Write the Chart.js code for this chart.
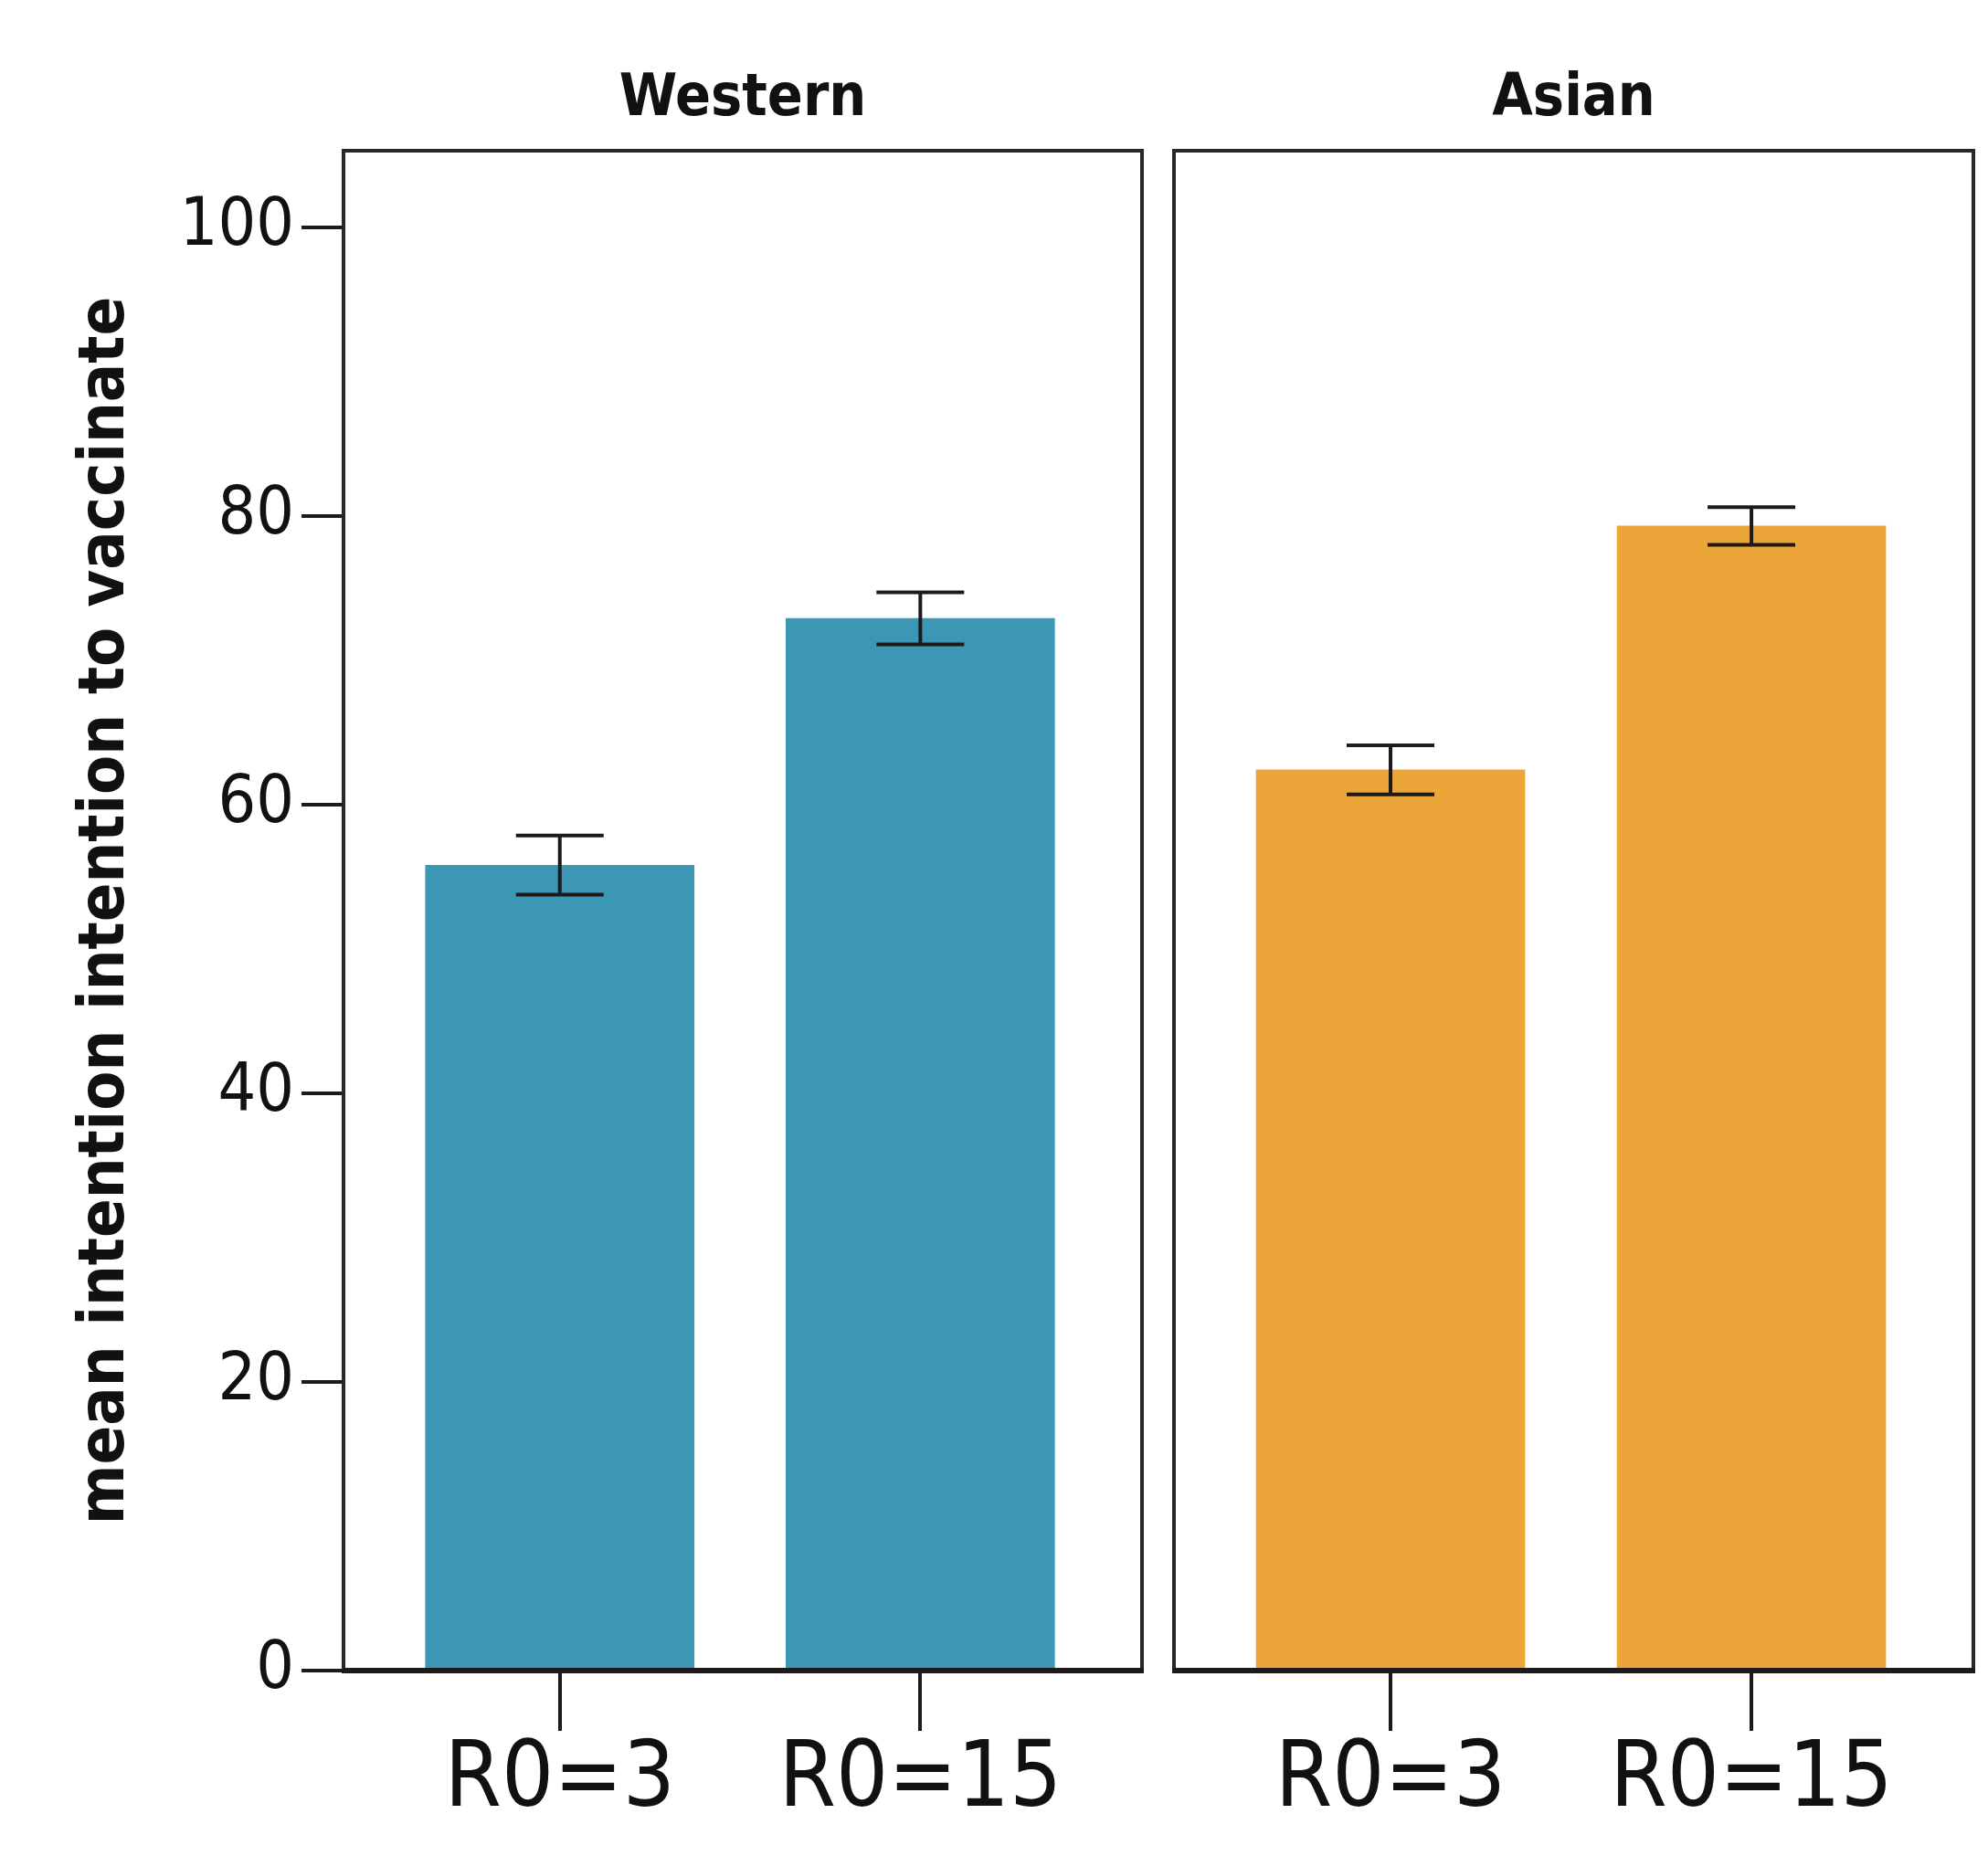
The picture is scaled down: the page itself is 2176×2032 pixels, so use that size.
<!DOCTYPE html>
<html><head><meta charset="utf-8">
<script src="https://cdn.jsdelivr.net/npm/chart.js@4/dist/chart.umd.min.js"></script>
<style>
html,body{margin:0;padding:0;background:#fff;}
#wrap{position:relative;width:2176px;height:2032px;overflow:hidden;background:#fff;}
canvas{position:absolute;top:0;}
</style></head><body>
<div id="wrap">
<canvas id="c1" width="1270" height="2032" style="left:0;width:1270px;height:2032px"></canvas>
<canvas id="c2" width="906" height="2032" style="left:1270px;width:906px;height:2032px"></canvas>
</div>
<script>
// ---- data ----
const categories = ['R0=3', 'R0=15'];
const panelTitles = ['Western', 'Asian'];
const westernMeans = [55.8, 72.9];
const westernErrors = [2.05, 1.8];
const asianMeans = [62.4, 79.3];
const asianErrors = [1.7, 1.3];
const yTicks = [0, 20, 40, 60, 80, 100];
const yTitle = 'mean intention intention to vaccinate';

// ---- styles ----
const FONT = "'DejaVu Sans Condensed', 'DejaVu Sans', sans-serif";
const INK = '#1e1a1b';
const TEAL = '#3b97b4';
const ORANGE = '#eca538';

const errorBars = {
  id: 'errorBars',
  afterDatasetsDraw(chart) {
    const {ctx} = chart;
    const y = chart.scales.y;
    chart.data.datasets.forEach((ds, di) => {
      const meta = chart.getDatasetMeta(di);
      meta.data.forEach((bar, i) => {
        const m = ds.means[i], e = ds.errors[i];
        const yHi = y.getPixelForValue(m + e), yLo = y.getPixelForValue(m - e);
        const half = 48;
        ctx.save();
        ctx.strokeStyle = INK;
        ctx.lineWidth = 4;
        ctx.beginPath();
        ctx.moveTo(bar.x, yHi); ctx.lineTo(bar.x, yLo);
        ctx.moveTo(bar.x - half, yHi); ctx.lineTo(bar.x + half, yHi);
        ctx.moveTo(bar.x - half, yLo); ctx.lineTo(bar.x + half, yLo);
        ctx.stroke();
        ctx.restore();
      });
    });
  }
};

const panelBox = {
  id: 'panelBox',
  afterDatasetsDraw(chart) {
    const {ctx, chartArea: a} = chart;
    ctx.save();
    ctx.strokeStyle = '#2b2627';
    ctx.lineWidth = 4;
    ctx.strokeRect(a.left, a.top, a.right - a.left, a.bottom - a.top);
    ctx.strokeStyle = INK;
    ctx.lineWidth = 6;
    ctx.beginPath();
    ctx.moveTo(a.left - 2, a.bottom); ctx.lineTo(a.right + 2, a.bottom);
    ctx.stroke();
    ctx.restore();
  }
};

function makeChart(id, title, means, errors, color, showY, padding) {
  return new Chart(document.getElementById(id), {
    type: 'bar',
    data: {
      datasets: [{
        xAxisID: 'x',
        yAxisID: 'y',
        data: means.map((v, i) => ({x: i, y: v})),
        means: means,
        errors: errors,
        backgroundColor: color,
        borderWidth: 0,
        barThickness: 294
      }]
    },
    options: {
      responsive: false,
      animation: false,
      devicePixelRatio: 1,
      layout: {padding: padding},
      plugins: {legend: {display: false}, tooltip: {enabled: false}, title: {display: false}},
      scales: {
        x: {
          type: 'linear',
          position: 'bottom',
          offset: false,
          min: -0.6,
          max: 1.615,
          afterBuildTicks: (axis) => { axis.ticks = categories.map((c, i) => ({value: i})); },
          afterFit: (s) => { s.height = 203; },
          ticks: {
            callback: (v) => categories[Math.round(v)] ?? '',
            color: '#111',
            font: {family: FONT, size: 100, lineHeight: 1},
            padding: 6,
            maxRotation: 0,
            autoSkip: false
          },
          grid: {offset: false, drawOnChartArea: false, drawTicks: true, tickLength: 66, color: INK, lineWidth: 4},
          border: {display: false}
        },
        xTop: {
          type: 'linear',
          axis: 'x',
          position: 'top',
          offset: false,
          display: true,
          afterFit: (s) => { s.height = 165; },
          ticks: {display: false},
          grid: {display: false, drawTicks: false},
          border: {display: false},
          title: {display: true, text: title, color: '#111',
                  font: {family: FONT, size: 64, weight: 'bold'}, padding: {top: 71, bottom: 0}}
        },
        y: {
          type: 'linear',
          min: 0,
          max: 105.3,
          display: showY,
          afterBuildTicks: (axis) => { axis.ticks = yTicks.map(v => ({value: v})); },
          afterFit: (s) => { s.width = showY ? 376 : 0; },
          ticks: {color: '#111', font: {family: FONT, size: 73}, padding: 8},
          grid: {drawOnChartArea: false, drawTicks: true, tickLength: 46, color: INK, lineWidth: 4},
          border: {display: false},
          title: {display: true, text: yTitle, color: '#111',
                  font: {family: FONT, size: 70, weight: 'bold'}, padding: {top: 75, bottom: 0}}
        }
      }
    },
    plugins: [errorBars, panelBox]
  });
}

makeChart('c1', panelTitles[0], westernMeans, westernErrors, TEAL, true, {left: 0, right: 20, top: 0, bottom: 0});
makeChart('c2', panelTitles[1], asianMeans, asianErrors, ORANGE, false, {left: 15, right: 16, top: 0, bottom: 0});
</script>
</body></html>
